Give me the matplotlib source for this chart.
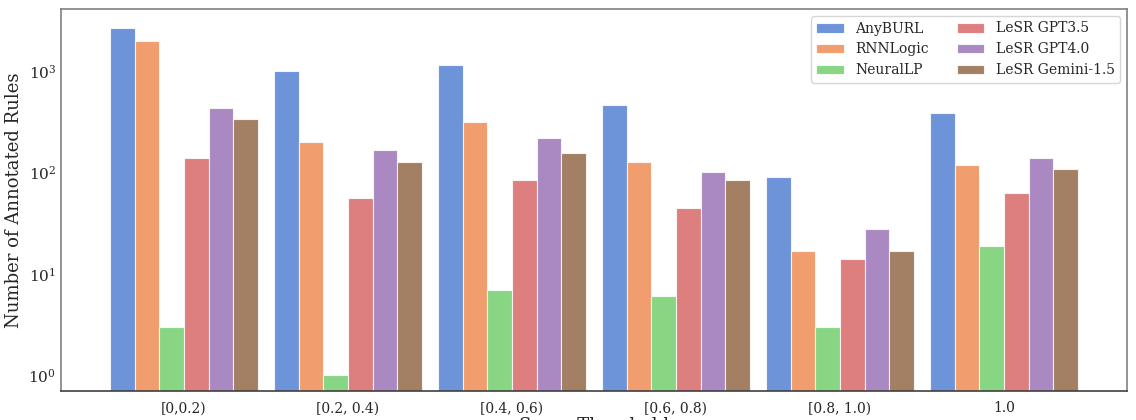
import numpy as np
import matplotlib
matplotlib.use('Agg')
import matplotlib.pyplot as plt
import seaborn as sns

sns.set_style('white')
plt.rcParams['font.family'] = ['DejaVu Serif']
plt.rcParams['mathtext.fontset'] = 'dejavuserif'

# Data
categories = ['[0,0.2)', '[0.2, 0.4)', '[0.4, 0.6)', '[0.6, 0.8)', '[0.8, 1.0)', '1.0']
methods = ['AnyBURL', 'RNNLogic', 'NeuralLP', 'LeSR GPT3.5', 'LeSR GPT4.0', 'LeSR Gemini-1.5']
anyburl = [2660, 1000, 1150, 460, 90, 385]
rnnlogic = [1980, 200, 314, 126, 17, 118]
neurallp = [3, 1, 7, 6, 3, 19]
lesr_gpt35 = [139, 56, 84, 45, 14, 63]
lesr_gpt40 = [432, 167, 219, 101, 28, 139]
lesr_gemini = [337, 126, 155, 84, 17, 108]

series = [anyburl, rnnlogic, neurallp, lesr_gpt35, lesr_gpt40, lesr_gemini]
colours = sns.color_palette('muted', 6)

fig = plt.figure(figsize=(11.36, 4.2), dpi=100)
ax = fig.add_axes([61 / 1136, 29 / 420, 1066 / 1136, 382 / 420])

x = np.arange(len(categories))
width = 0.15
for i, (vals, name) in enumerate(zip(series, methods)):
    ax.bar(x + (i - 2.5) * width, vals, width, label=name, color=colours[i],
           alpha=0.8, edgecolor='white', linewidth=0.8)

ax.set_yscale('log')
ax.set_ylim(0.7, 4100)
ax.set_xlim(-0.75, len(categories) - 0.25)
ax.set_xticks(x)
ax.set_xticklabels(categories, fontsize=10)
ax.tick_params(axis='x', pad=4)
ax.tick_params(axis='y', labelsize=11, which='major', length=0)
ax.tick_params(axis='y', which='minor', length=0)
ax.set_ylabel('Number of Annotated Rules', fontsize=13)
ax.set_xlabel('Score Threshold', fontsize=13, labelpad=1)

for side in ['top', 'left', 'right']:
    ax.spines[side].set_color('0.5')
    ax.spines[side].set_linewidth(1.2)
ax.spines['bottom'].set_color('0.25')
ax.spines['bottom'].set_linewidth(1.2)

ax.legend(ncol=2, loc='upper right', fontsize=10, frameon=True)

plt.savefig('out.png', dpi=100)
plt.close()
